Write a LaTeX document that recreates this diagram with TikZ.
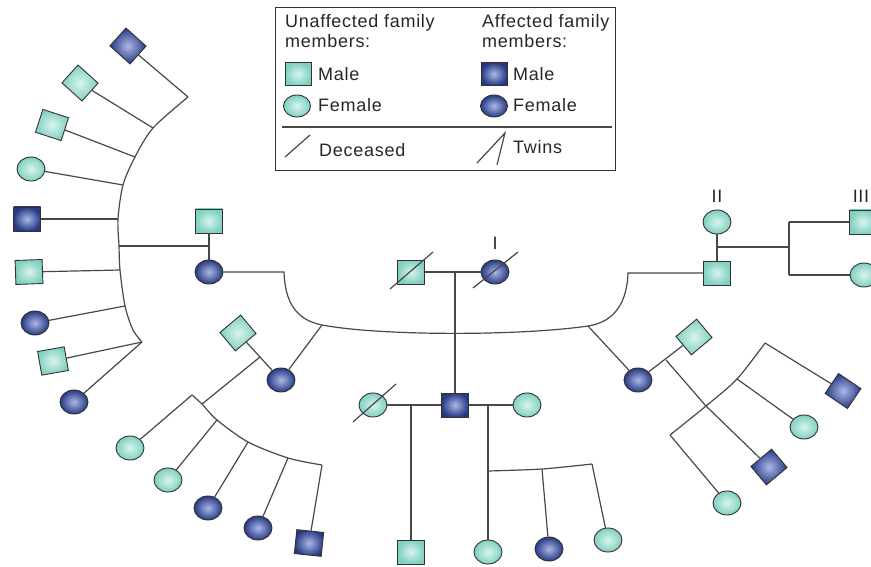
\documentclass[tikz,border=0pt]{standalone}
\usepackage{fontspec}
\setmainfont[LetterSpace=4]{Liberation Sans}
\usepackage{tikz}
\usetikzlibrary{shapes.geometric}
\definecolor{tealout}{RGB}{128,208,193}
\definecolor{tealin}{RGB}{216,244,237}
\definecolor{blueout}{RGB}{38,58,132}
\definecolor{bluein}{RGB}{172,184,230}
\definecolor{bordergray}{RGB}{50,50,50}
\definecolor{linegray}{RGB}{72,72,72}

\begin{document}
\begin{tikzpicture}[x=1pt, y=-1pt,
		every node/.style={font=\fontsize{18}{20}\selectfont, text=black!85},
		pedline/.style={linegray, line width=1.2pt},
		person/.style={draw=bordergray, line width=0.9pt, inner sep=0pt},
		male/.style={person, rectangle, minimum width=27pt, minimum height=24pt},
		female/.style={person, ellipse, minimum width=28pt, minimum height=24pt},
		keymale/.style={person, rectangle, minimum width=26pt, minimum height=23pt},
		keyfemale/.style={person, ellipse, minimum width=27pt, minimum height=22pt},
		unaff/.style={inner color=tealin, outer color=tealout},
		aff/.style={inner color=bluein, outer color=blueout},
		txt/.style={anchor=base west, inner sep=0pt},
		gen/.style={anchor=base, inner sep=0pt}]
			
			\useasboundingbox (0,0) rectangle (871,567);
			
			\draw[bordergray, line width=1pt] (275,8) rectangle (615,171);
			\draw[pedline] (282,127) -- (612,127);
			\node[txt] (unafft) at (285,28) {Unaffected family};
			\node[txt] (unaffm) at (285,48) {members:};
			\node[txt] (afft) at (482,28) {Affected family};
			\node[txt] (affm) at (482,48) {members:};
			\node[keymale, unaff] (keymu) at (298,74) {};
			\node[txt] (keymut) at (318,81) {Male};
			\node[keyfemale, unaff] (keyfu) at (297,106) {};
			\node[txt] (keyfut) at (318,112) {Female};
			\node[keymale, aff] (keyma) at (494,74) {};
			\node[txt] (keymat) at (513,81) {Male};
			\node[keyfemale, aff] (keyfa) at (494,106) {};
			\node[txt] (keyfat) at (513,112) {Female};
			\draw[pedline] (285,157) -- (310,135);
			\node[txt] (dect) at (319,157) {Deceased};
			\draw[pedline] (477,163) -- (505,133) -- (497,165);
			\node[txt] (twint) at (513,154) {Twins};
			
			\node[male, unaff] (g1m) at (411,272) {};
			\node[female, aff] (g1f) at (495,272) {};
			\node[gen] (lab1) at (495,250) {I};
			\node[male, aff] (g2m) at (455,405) {};
			\node[female, unaff] (g2w1) at (373,405) {};
			\node[female, unaff] (g2w2) at (527,405) {};
			\node[male, unaff] (g2lm) at (209,221) {};
			\node[female, aff] (g2lf) at (209,272) {};
			\node[female, aff] (g2mf) at (281,380) {};
			\node[male, unaff, rotate=40] (g2mm) at (238,333) {};
			\node[female, aff] (g2rf) at (638,380) {};
			\node[male, unaff, rotate=40] (g2rm) at (694,337) {};
			\node[female, unaff] (g2rw) at (717,222) {};
			\node[male, unaff] (g2r) at (717,273) {};
			\node[gen] (lab2) at (717,203) {II};
			
			\node[male, aff, rotate=-42] (l1) at (128,46) {};
			\node[male, unaff, rotate=-42] (l2) at (80,83) {};
			\node[male, unaff, rotate=-18] (l3) at (52,125) {};
			\node[female, unaff] (l4) at (31,169) {};
			\node[male, aff] (l5) at (27,219) {};
			\node[male, unaff, rotate=2] (l6) at (29,272) {};
			\node[female, aff] (l7) at (35,323) {};
			\node[male, unaff, rotate=10] (l8) at (53,361) {};
			\node[female, aff] (l9) at (74,402) {};
			
			\node[female, unaff] (m1) at (130,448) {};
			\node[female, unaff] (m2) at (168,480) {};
			\node[female, aff] (m3) at (208,508) {};
			\node[female, aff] (m4) at (258,528) {};
			\node[male, aff, rotate=-6] (m5) at (309,543) {};
			
			\node[male, unaff] (c1) at (411,552) {};
			\node[female, unaff] (c2) at (488,552) {};
			\node[female, aff] (c3) at (549,549) {};
			\node[female, unaff] (c4) at (608,540) {};
			
			\node[male, unaff] (r1) at (863,222) {};
			\node[female, unaff] (r2) at (864,275) {};
			\node[gen] (lab3) at (861,203) {III};
			
			\node[female, unaff] (s1) at (727,503) {};
			\node[male, aff, rotate=40] (s2) at (769,467) {};
			\node[female, unaff] (s3) at (804,427) {};
			\node[male, aff, rotate=-34] (s4) at (843,391) {};
			
			\coordinate (g1c) at (455,272);
			\coordinate (bigl) at (284,272);
			\coordinate (bigjl) at (322,325);
			\coordinate (bigjr) at (588,326);
			\coordinate (bigr) at (628,273);
			\draw[pedline] (g1m) -- (g1f);
			\draw[pedline] (g1c) -- (g2m);
			\draw[pedline] (g2lf) -- (bigl) .. controls (285,302) and (296,320) .. (bigjl) .. controls (380,336) and (520,336) .. (bigjr) .. controls (615,322) and (627,302) .. (bigr) -- (g2r);
			\draw[pedline] (bigjl) -- (g2mf);
			\draw[pedline] (bigjr) -- (g2rf);
			\draw[pedline] (390,289) -- (433,252);
			\draw[pedline] (473,288) -- (518,252);
			
			\coordinate (g2lc) at (209,246);
			\coordinate (la1) at (188,97);
			\coordinate (la2) at (153,128);
			\coordinate (la3) at (135,157);
			\coordinate (la4) at (123,185);
			\coordinate (la5) at (118,219);
			\coordinate (la6) at (119,246);
			\coordinate (la7) at (120,270);
			\coordinate (la8) at (125,306);
			\coordinate (la9) at (142,342);
			\draw[pedline] (g2lm) -- (g2lf);
			\draw[pedline] (g2lc) -- (la6);
			\draw[pedline] plot[smooth] coordinates {(la1) (la2) (la3) (la4) (la5) (la6) (la7) (la8) (133,330) (la9)};
			\draw[pedline] (la1) -- (l1);
			\draw[pedline] (la2) -- (l2);
			\draw[pedline] (la3) -- (l3);
			\draw[pedline] (la4) -- (l4);
			\draw[pedline] (la5) -- (l5);
			\draw[pedline] (la7) -- (l6);
			\draw[pedline] (la8) -- (l7);
			\draw[pedline] (la9) -- (l8);
			\draw[pedline] (la9) -- (l9);
			
			\coordinate (g2mc) at (260,357);
			\coordinate (ma1) at (192,395);
			\coordinate (ma2) at (202,404);
			\coordinate (ma3) at (217,420);
			\coordinate (ma4) at (248,442);
			\coordinate (ma5) at (288,458);
			\coordinate (ma6) at (322,465);
			\draw[pedline] (g2mm) -- (g2mf);
			\draw[pedline] (g2mc) -- (ma2);
			\draw[pedline] plot[smooth] coordinates {(ma1) (ma2) (ma3) (ma4) (ma5) (ma6)};
			\draw[pedline] (ma1) -- (m1);
			\draw[pedline] (ma3) -- (m2);
			\draw[pedline] (ma4) -- (m3);
			\draw[pedline] (ma5) -- (m4);
			\draw[pedline] (ma6) -- (m5);
			
			\coordinate (cw1) at (411,405);
			\coordinate (cw2) at (488,405);
			\coordinate (cs1) at (488,471);
			\coordinate (cs2) at (542,469);
			\coordinate (cs3) at (592,464);
			\draw[pedline] (g2w1) -- (g2m);
			\draw[pedline] (g2m) -- (g2w2);
			\draw[pedline] (353,422) -- (396,384);
			\draw[pedline] (cw1) -- (c1);
			\draw[pedline] (cw2) -- (c2);
			\draw[pedline] plot[smooth] coordinates {(cs1) (cs2) (cs3)};
			\draw[pedline] (cs2) -- (c3);
			\draw[pedline] (cs3) -- (c4);
			
			\coordinate (rc) at (717,247);
			\coordinate (rj) at (789,247);
			\coordinate (rt) at (789,222);
			\coordinate (rb) at (789,275);
			\draw[pedline] (g2rw) -- (g2r);
			\draw[pedline] (rc) -- (rj);
			\draw[pedline] (rt) -- (rb);
			\draw[pedline] (rt) -- (r1);
			\draw[pedline] (rb) -- (r2);
			
			\coordinate (g2rc) at (666,360);
			\coordinate (ra1) at (670,435);
			\coordinate (ra2) at (706,406);
			\coordinate (ra3) at (737,379);
			\coordinate (ra4) at (765,343);
			\draw[pedline] (g2rf) -- (g2rm);
			\draw[pedline] (g2rc) -- (ra2);
			\draw[pedline] plot[smooth] coordinates {(ra1) (ra2) (ra3) (ra4)};
			\draw[pedline] (ra1) -- (s1);
			\draw[pedline] (ra2) -- (s2);
			\draw[pedline] (ra3) -- (s3);
			\draw[pedline] (ra4) -- (s4);
		\end{tikzpicture}
\end{document}
